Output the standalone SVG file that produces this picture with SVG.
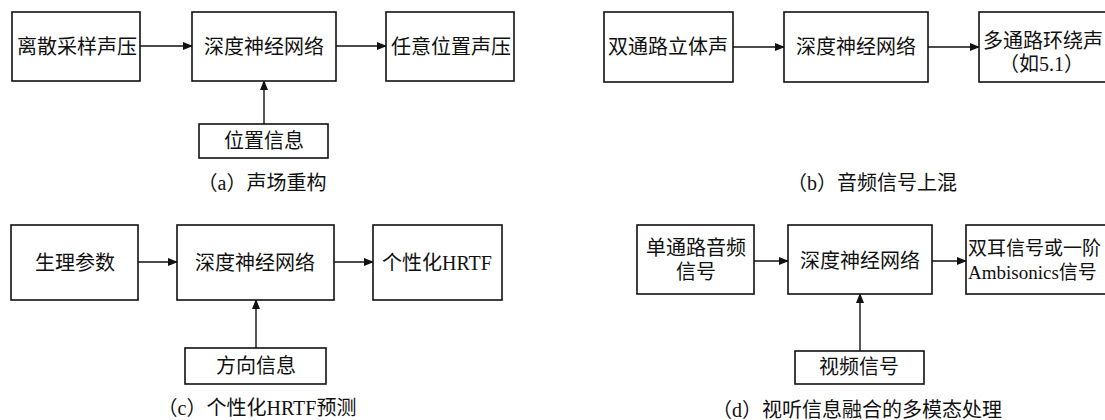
<svg xmlns="http://www.w3.org/2000/svg" width="1105" height="420" viewBox="0 0 1105 420">
<style>
.box{fill:#fff;stroke:#111;stroke-width:1.6}
.t{font-family:"Liberation Serif","Noto Sans CJK SC",serif;font-size:20px;fill:#111;text-anchor:middle;dominant-baseline:central}
.tl{font-family:"Liberation Serif","Noto Sans CJK SC",serif;font-size:20px;fill:#111;text-anchor:start;dominant-baseline:central}
.cap{font-family:"Liberation Serif","Noto Sans CJK SC",serif;font-size:20px;fill:#111;text-anchor:middle;dominant-baseline:central}
.c{stroke:#111;stroke-width:1.4;fill:none;marker-end:url(#ah)}
</style>
<defs>
<marker id="ah" markerWidth="10" markerHeight="8" refX="9" refY="4" orient="auto" markerUnits="userSpaceOnUse">
<path d="M0,0 L10,4 L0,8 Z" fill="#111"/>
</marker>
</defs>
<rect width="1105" height="420" fill="#fff"/>

<g id="connectors">
<line class="c" x1="140" y1="46" x2="192" y2="46"/>
<line class="c" x1="336" y1="46" x2="386" y2="46"/>
<line class="c" x1="264" y1="124" x2="264" y2="81"/>
<line class="c" x1="733" y1="47" x2="784" y2="47"/>
<line class="c" x1="928" y1="47" x2="979" y2="47"/>
<line class="c" x1="138" y1="262" x2="177" y2="262"/>
<line class="c" x1="334" y1="262" x2="373" y2="262"/>
<line class="c" x1="256" y1="348" x2="256" y2="300"/>
<line class="c" x1="754" y1="261" x2="788" y2="261"/>
<line class="c" x1="932" y1="261" x2="966" y2="261"/>
<line class="c" x1="860" y1="351" x2="860" y2="294"/>
</g>

<g id="a1"><rect class="box" x="12" y="12" width="128" height="69"/><text class="t" x="77" y="47">离散采样声压</text></g>
<g id="a2"><rect class="box" x="192" y="12" width="144" height="69"/><text class="t" x="264" y="47">深度神经网络</text></g>
<g id="a3"><rect class="box" x="386" y="12" width="128" height="69"/><text class="t" x="451" y="47">任意位置声压</text></g>
<g id="a4"><rect class="box" x="199" y="124" width="129" height="34"/><text class="t" x="264" y="141">位置信息</text></g>
<text class="cap" x="262" y="183">（a）声场重构</text>

<g id="b1"><rect class="box" x="604" y="12" width="129" height="70"/><text class="t" x="668" y="47">双通路立体声</text></g>
<g id="b2"><rect class="box" x="784" y="12" width="144" height="70"/><text class="t" x="856" y="47">深度神经网络</text></g>
<g id="b3"><rect class="box" x="979" y="12" width="140" height="70"/><text class="tl" x="983" y="41">多通路环绕声</text><text class="tl" x="999" y="64">（如5.1）</text></g>
<text class="cap" x="872" y="183">（b）音频信号上混</text>

<g id="c1"><rect class="box" x="11" y="225" width="127" height="75"/><text class="t" x="75" y="263">生理参数</text></g>
<g id="c2"><rect class="box" x="177" y="225" width="157" height="75"/><text class="t" x="255" y="263">深度神经网络</text></g>
<g id="c3"><rect class="box" x="373" y="225" width="129" height="75"/><text class="t" x="437" y="263">个性化HRTF</text></g>
<g id="c4"><rect class="box" x="185" y="348" width="141" height="36"/><text class="t" x="256" y="366">方向信息</text></g>
<text class="cap" x="257" y="408">（c）个性化HRTF预测</text>

<g id="d1"><rect class="box" x="637" y="225" width="117" height="69"/><text class="t" x="696" y="248">单通路音频</text><text class="t" x="696" y="272">信号</text></g>
<g id="d2"><rect class="box" x="788" y="225" width="144" height="69"/><text class="t" x="860" y="261">深度神经网络</text></g>
<g id="d3"><rect class="box" x="966" y="225" width="150" height="69"/><text class="tl" x="968" y="248" style="font-size:19px">双耳信号或一阶</text><text class="tl" x="968" y="272" style="font-size:19px">Ambisonics信号</text></g>
<g id="d4"><rect class="box" x="795" y="351" width="129" height="33"/><text class="t" x="859" y="367">视频信号</text></g>
<text class="cap" x="857" y="410">（d）视听信息融合的多模态处理</text>
</svg>
